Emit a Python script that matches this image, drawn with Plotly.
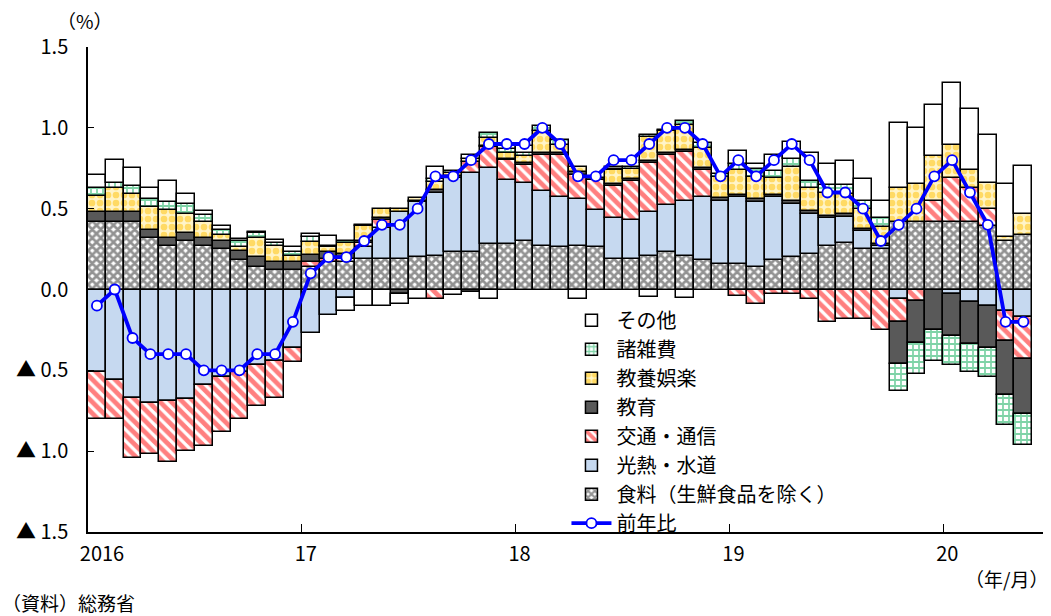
import plotly.graph_objects as go

# ---- categories -------------------------------------------------------
months = [f"{y}/{m:02d}" for y in range(2016, 2021) for m in range(1, 13)][:53]
year_tick_months = ["2016/01", "2017/01", "2018/01", "2019/01", "2020/01"]
year_labels = ["2016", "17", "18", "19", "20"]

# ---- contributions (percentage points) --------------------------------
food = [0.42, 0.42, 0.42, 0.32, 0.27, 0.30, 0.27, 0.25, 0.18, 0.14, 0.12, 0.12,
        0.14, 0.17, 0.17, 0.19, 0.19, 0.19, 0.20, 0.21, 0.23, 0.23, 0.28, 0.28,
        0.30, 0.27, 0.26, 0.27, 0.26, 0.19, 0.19, 0.21, 0.23, 0.21, 0.18, 0.16,
        0.16, 0.14, 0.18, 0.20, 0.22, 0.27, 0.29, 0.25, 0.25, 0.42, 0.42, 0.42,
        0.42, 0.42, 0.39, 0.30, 0.34]

energy = [-0.51, -0.56, -0.67, -0.70, -0.69, -0.68, -0.59, -0.54, -0.51, -0.47, -0.44, -0.36,
          -0.27, -0.16, -0.05, 0.07, 0.19, 0.29, 0.34, 0.39, 0.46, 0.49, 0.47, 0.40,
          0.36, 0.34, 0.31, 0.29, 0.23, 0.25, 0.24, 0.27, 0.29, 0.34, 0.39, 0.39,
          0.41, 0.40, 0.39, 0.33, 0.25, 0.17, 0.16, 0.11, 0.02, -0.06, 0.00, 0.00,
          -0.03, -0.08, -0.10, -0.13, -0.17]

transport = [-0.29, -0.24, -0.37, -0.32, -0.38, -0.32, -0.38, -0.34, -0.29, -0.25, -0.23, -0.09,
             0.03, 0.02, 0.02, 0.03, 0.05, 0.00, 0.00, -0.06, 0.00, 0.07, 0.13, 0.12,
             0.11, 0.22, 0.26, 0.15, 0.19, 0.20, 0.24, 0.30, 0.31, 0.30, 0.17, 0.00,
             -0.04, -0.09, -0.03, -0.03, -0.06, -0.20, -0.18, -0.18, -0.25, -0.14, -0.07, 0.13,
             0.27, 0.21, 0.11, -0.19, -0.26]

education = [0.06, 0.06, 0.06, 0.05, 0.05, 0.05, 0.05, 0.05, 0.06, 0.06, 0.05, 0.05,
             0.045, 0.04, 0.03, 0.01, 0.01, -0.03, 0.005, 0.015, 0.01, -0.015, 0.01, 0.01,
             0.01, 0.015, 0.012, 0.015, 0.012, 0.015, 0.015, 0.014, 0.015, 0.015, 0.014, 0.015,
             0.015, 0.018, 0.012, 0.02, 0.015, 0.015, 0.016, 0.016, 0.012, -0.26, -0.26, -0.25,
             -0.26, -0.26, -0.26, -0.33, -0.34]

recreation = [0.10, 0.15, 0.11, 0.14, 0.17, 0.12, 0.10, 0.04, 0.02, 0.12, 0.10, 0.04,
              0.08, 0.03, 0.065, 0.09, 0.06, 0.015, 0.02, 0.047, 0.02, 0.02, 0.045, 0.037,
              0.047, 0.134, 0.054, 0.03, 0.00, 0.082, 0.062, 0.15, 0.134, 0.15, 0.12, 0.13,
              0.157, 0.138, 0.107, 0.206, 0.14, 0.144, 0.124, 0.124, 0.107, 0.206, 0.233, 0.274,
              0.206, 0.111, 0.157, 0.025, 0.124]

misc = [0.05, 0.03, 0.05, 0.05, 0.05, 0.06, 0.04, 0.03, 0.04, 0.03, 0.02, 0.02,
        0.03, 0.01, 0.015, 0.01, 0.00, 0.00, 0.00, 0.02, 0.015, 0.00, 0.03, 0.02,
        0.02, 0.035, 0.03, 0.00, 0.00, 0.01, 0.01, 0.01, 0.01, 0.03, 0.03, 0.02,
        0.035, 0.05, 0.047, 0.05, 0.047, 0.045, 0.058, 0.045, 0.056, -0.17, -0.19, -0.19,
        -0.18, -0.17, -0.18, -0.19, -0.19]

other = [0.08, 0.14, 0.11, 0.07, 0.13, 0.06, 0.025, 0.02, 0.015, 0.005, 0.016, 0.03,
         0.02, 0.06, -0.08, -0.10, -0.10, -0.06, -0.06, 0.075, -0.037, 0.02, -0.058, 0.02,
         0.04, 0.00, 0.00, -0.058, 0.00, 0.01, 0.00, -0.047, 0.00, -0.054, 0.00, 0.00,
         0.082, 0.03, 0.093, 0.107, 0.171, 0.134, 0.144, 0.14, 0.10, 0.406, 0.348, 0.32,
         0.379, 0.377, 0.30, 0.326, 0.297]

yoy = [-0.1, 0.0, -0.3, -0.4, -0.4, -0.4, -0.5, -0.5, -0.5, -0.4, -0.4, -0.2,
       0.1, 0.2, 0.2, 0.3, 0.4, 0.4, 0.5, 0.7, 0.7, 0.8, 0.9, 0.9,
       0.9, 1.0, 0.9, 0.7, 0.7, 0.8, 0.8, 0.9, 1.0, 1.0, 0.9, 0.7,
       0.8, 0.7, 0.8, 0.9, 0.8, 0.6, 0.6, 0.5, 0.3, 0.4, 0.5, 0.7,
       0.8, 0.6, 0.4, -0.2, -0.2]

y_tickvals = [-1.5, -1.0, -0.5, 0.0, 0.5, 1.0, 1.5]
y_ticktext = ["▲ 1.5", "▲ 1.0", "▲ 0.5", "0.0", "0.5", "1.0", "1.5"]

# ---- build ------------------------------------------------------------
FONT = "Noto Sans CJK JP"
x_pos = [i + 0.5 for i in range(len(months))]          # centre of each month slot
tick_pos = [months.index(m) for m in year_tick_months]   # slot boundaries at January

series = [
    ("食料（生鮮食品を除く）", food,
     dict(color="white", pattern=dict(shape="x", fgcolor="#262626", bgcolor="#ffffff", size=6, solidity=0.7))),
    ("光熱・水道", energy, dict(color="#c6d9f0")),
    ("交通・通信", transport,
     dict(color="white", pattern=dict(shape="\\", fgcolor="#ff0000", bgcolor="#ffffff", size=8, solidity=0.6))),
    ("教育", education, dict(color="#595959")),
    ("教養娯楽", recreation,
     dict(color="white", pattern=dict(shape=".", fgcolor="#ffc000", bgcolor="#fff4c8", size=8, solidity=0.55))),
    ("諸雑費", misc,
     dict(color="white", pattern=dict(shape="+", fgcolor="#00a850", bgcolor="#ffffff", size=6, solidity=0.5))),
    ("その他", other, dict(color="#ffffff")),
]

fig = go.Figure()
n = len(series)
for k, (name, vals, mk) in enumerate(series):
    mk = dict(mk)
    mk["line"] = dict(color="#000000", width=1.5)
    fig.add_trace(go.Bar(
        x=x_pos, y=[v if v != 0 else None for v in vals], name=name,
        width=1.0, marker=mk, customdata=months,
        hovertemplate="%{customdata}: %{y}<extra>" + name + "</extra>",
        legendrank=n - k,
    ))

fig.add_trace(go.Scatter(
    x=x_pos, y=yoy, name="前年比", mode="lines+markers",
    line=dict(color="#0000ff", width=3.8),
    marker=dict(symbol="circle", size=10, color="#ffffff", line=dict(color="#0000ff", width=1.8)),
    customdata=months, hovertemplate="%{customdata}: %{y}<extra>前年比</extra>",
    legendrank=100,
))

fig.update_layout(
    width=1051, height=616,
    margin=dict(l=88, r=8, t=47, b=84, autoexpand=False),
    barmode="relative", bargap=0,
    plot_bgcolor="white", paper_bgcolor="white",
    font=dict(family=FONT, size=19, color="#000000"),
    showlegend=True,
    legend=dict(x=0.501, y=0.477, xanchor="left", yanchor="top",
                bgcolor="rgba(0,0,0,0)", font=dict(family=FONT, size=20, color="#000000"),
                tracegroupgap=0, itemwidth=40),
    annotations=[
        dict(text="（%）", xref="paper", yref="paper", x=-0.003, y=1.055,
             showarrow=False, font=dict(family=FONT, size=19), xanchor="center", yanchor="middle"),
        dict(text="（年/月）", xref="paper", yref="paper", x=1.007, y=-0.095,
             showarrow=False, font=dict(family=FONT, size=19), xanchor="right", yanchor="middle"),
        dict(text="（資料）総務省", xref="paper", yref="paper", x=-0.092, y=-0.146,
             showarrow=False, font=dict(family=FONT, size=19), xanchor="left", yanchor="middle"),
    ],
)

fig.update_xaxes(
    range=[0, 53.6], showgrid=False, zeroline=False, automargin=False,
    showline=True, linecolor="#000000", linewidth=1.5,
    tickvals=tick_pos, ticktext=["\u2003" + year_labels[0]] + year_labels[1:],
    ticks="inside", ticklen=8, tickcolor="#000000", tickwidth=1.2,
    ticklabelstandoff=3, ticklabelshift=4, tickfont=dict(family=FONT, size=20),
)
fig.update_yaxes(
    range=[-1.5, 1.5], showgrid=False, zeroline=False, automargin=False,
    showline=True, linecolor="#000000", linewidth=1.5,
    tickvals=y_tickvals, ticktext=y_ticktext,
    ticks="inside", ticklen=6, tickcolor="#000000", tickwidth=1.2,
    ticklabelstandoff=14, tickfont=dict(family=FONT, size=20),
)

fig.write_html("out.html", config={"displayModeBar": False},
               post_script="document.body.style.margin='0px';")
